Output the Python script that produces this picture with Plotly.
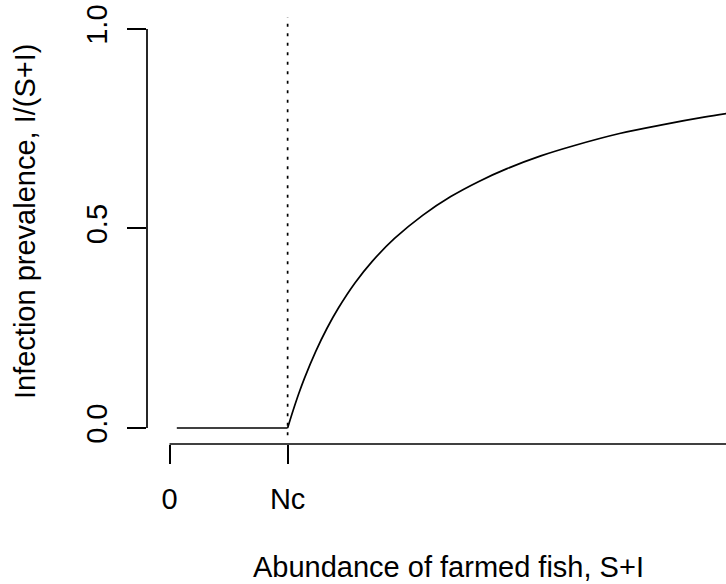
import plotly.graph_objects as go

# ---- data ----
Nc = 21.0
flat_N = [1.3, 21.0]
flat_prev = [0.0, 0.0]
curve_N = [21.0, 22, 23, 24, 26, 28, 30, 33, 36, 40, 45, 50, 55, 60, 66, 72, 80, 88, 95, 100]
curve_prev = [0.0, 0.045, 0.087, 0.125, 0.192, 0.25, 0.30, 0.364, 0.417, 0.475, 0.533,
              0.58, 0.618, 0.65, 0.682, 0.708, 0.738, 0.761, 0.779, 0.79]
x_tick_vals = [0, Nc]
x_tick_text = ["0", "Nc"]
y_tick_vals = [0.0, 0.5, 1.0]
y_tick_text = ["0.0", "0.5", "1.0"]

FONT = "Liberation Sans, Arial, Helvetica, sans-serif"
FS = 29
LW = 1.7

fig = go.Figure()
fig.add_trace(go.Scatter(x=flat_N, y=flat_prev, mode="lines",
                         line=dict(color="black", width=LW), showlegend=False, hoverinfo="skip"))
fig.add_trace(go.Scatter(x=curve_N, y=curve_prev, mode="lines",
                         line=dict(color="black", width=LW, shape="spline", smoothing=1),
                         showlegend=False, hoverinfo="skip"))

# dotted vertical line at Nc
fig.add_shape(type="line", xref="x", yref="y", x0=Nc, x1=Nc, y0=-0.018, y1=1.03,
              line=dict(color="black", width=LW, dash="3px,6.5px"))
# R-style axis lines (span of ticks)
fig.add_shape(type="line", xref="x", yref="paper", x0=0, x1=200, y0=0, y1=0,
              line=dict(color="black", width=LW))
fig.add_shape(type="line", xref="paper", yref="y", x0=0, x1=0, y0=0, y1=1,
              line=dict(color="black", width=LW))

fig.update_layout(
    width=726, height=584,
    margin=dict(l=147, r=0, t=13, b=140),
    paper_bgcolor="white", plot_bgcolor="white",
    font=dict(family=FONT, size=FS, color="black"),
    xaxis=dict(range=[-4.0, 98.93], showgrid=False, zeroline=False, showline=False,
               tickmode="array", tickvals=x_tick_vals, ticktext=x_tick_text,
               ticks="outside", ticklen=19, tickwidth=LW, tickcolor="black",
               ticklabelstandoff=10, tickfont=dict(size=FS)),
    yaxis=dict(range=[-0.0401, 1.040], showgrid=False, zeroline=False, showline=False,
               tickmode="array", tickvals=y_tick_vals, ticktext=y_tick_text,
               ticks="outside", ticklen=19, tickwidth=LW, tickcolor="black",
               tickangle=-90, ticklabelstandoff=8, tickfont=dict(size=FS)),
    annotations=[
        dict(text="Abundance of farmed fish, S+I", xref="paper", yref="paper",
             x=(448 - 147) / 579, y=(444 - 567) / 431, xanchor="center", yanchor="middle",
             showarrow=False, font=dict(size=FS)),
        dict(text="Infection prevalence, I/(S+I)", xref="paper", yref="paper",
             x=(25 - 147) / 579, y=(444 - 222) / 431, xanchor="center", yanchor="middle",
             textangle=-90, showarrow=False, font=dict(size=FS)),
    ],
)

fig.write_html("out.html")
